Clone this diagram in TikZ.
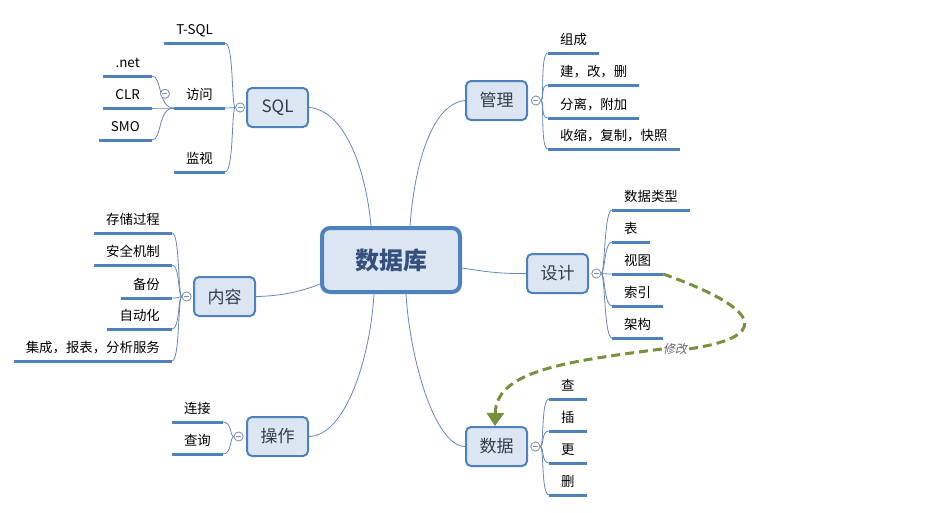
\documentclass[tikz,border=0pt]{standalone}
\usepackage{fontspec}
\setmainfont{Noto Sans CJK SC}
\newfontfamily\slfont{Noto Sans CJK SC}[FakeSlant=0.2]
\usepackage{tikz}
\usetikzlibrary{positioning,arrows.meta}

\definecolor{topicblue}{RGB}{79,129,189}
\definecolor{topicfill}{RGB}{220,230,242}
\definecolor{linkblue}{RGB}{100,135,190}
\definecolor{foldgray}{RGB}{125,145,175}
\definecolor{relgreen}{RGB}{118,146,60}
\definecolor{topictext}{RGB}{50,60,75}
\definecolor{roottext}{RGB}{52,80,125}

\tikzset{
	root/.style={draw=topicblue, line width=4pt, fill=topicfill, rounded corners=8pt, minimum width=138pt, minimum height=64pt, font=\fontsize{24}{28}\selectfont\bfseries, text=roottext},
	topic/.style={draw=topicblue, line width=2pt, fill=topicfill, rounded corners=5pt, minimum width=61pt, minimum height=39pt, font=\fontsize{17}{20}\selectfont, text=topictext},
	uline/.style={draw=topicblue, line width=3pt},
	leaf/.style={inner xsep=12pt, inner ysep=0pt, text height=20pt, text depth=8pt, font=\fontsize{13.4}{15}\selectfont, text=black,
		append after command={(\tikzlastnode.south west) edge[uline] (\tikzlastnode.south east)}},
	branch/.style={draw=linkblue, line width=0.8pt},
	fold/.style={circle, draw=foldgray, fill=white, line width=0.7pt, minimum size=9pt, inner sep=0pt,
		path picture={\draw[foldgray, line width=0.7pt] ([xshift=-2.5pt]path picture bounding box.center) -- ([xshift=2.5pt]path picture bounding box.center);}},
	rel/.style={draw=relgreen, line width=3pt, dash pattern=on 9pt off 5pt},
	rellabel/.style={font=\slfont\fontsize{12}{14}\selectfont, text=black!60, inner sep=1pt}
}

\begin{document}
\begin{tikzpicture}[x=1pt, y=-1pt]
			%%%%% START %%%%%
			\useasboundingbox (0,0) rectangle (945,512);
			
			\node[root] (db) at (391,260) {数据库};
			
			\node[topic] (sql) at (277.5,107.5) {SQL};
			\node[topic] (mgmt) at (496.5,100.5) {管理};
			\node[topic] (content) at (224.5,296.5) {内容};
			\node[topic] (design) at (557.5,273.5) {设计};
			\node[topic] (ops) at (277.5,436.5) {操作};
			\node[topic] (data) at (496.5,446.5) {数据};
			
			\draw[branch] (sql.east) .. controls (345,110) and (366,170) .. ([xshift=-20pt]db.north);
			\draw[branch] (mgmt.west) .. controls (430,104) and (414,170) .. ([xshift=19pt]db.north);
			\draw[branch] (content.east) .. controls (285,296) and (305,290) .. ([yshift=-24pt]db.west);
			\draw[branch] (design.west) .. controls (495,274) and (476,270) .. ([yshift=-8pt]db.east);
			\draw[branch] (ops.east) .. controls (345,436) and (370,360) .. ([xshift=-17pt]db.south);
			\draw[branch] (data.west) .. controls (435,446) and (410,360) .. ([xshift=15pt]db.south);
			
			% left hand leaves
			\foreach \n/\x/\y/\t in {tsql/225/43/T-SQL, acc/225/108/访问, mon/225/172/监视,
				net/152/76/.net, clr/152/108/CLR, smo/152/140/SMO,
				c1/172/233/存储过程, c2/172/265/安全机制, c3/172/298/备份, c4/172/329/自动化, c5/172/361/{集成，报表，分析服务},
				o1/223/422/连接, o2/223/454/查询}
				\node[leaf, anchor=south east] (\n) at (\x,\y) {\t};
			
			% right hand leaves
			\foreach \n/\x/\y/\t in {m1/548/53/组成, m2/548/85/{建，改，删}, m3/548/118/{分离，附加}, m4/548/149/{收缩，复制，快照},
				d1/612/210/数据类型, d2/612/242/表, d3/612/274/视图, d4/612/306/索引, d5/612/338/架构,
				a1/549/399/查, a2/549/431/插, a3/549/463/更, a4/549/495/删}
				\node[leaf, anchor=south west] (\n) at (\x,\y) {\t};
			
			\node[fold, left=1pt of sql] (sqlf) {};
			\node[fold, right=3pt of mgmt] (mgmtf) {};
			\node[fold, left=1.5pt of content] (contentf) {};
			\node[fold, right=2.5pt of design] (designf) {};
			\node[fold, left=2.5pt of ops] (opsf) {};
			\node[fold, right=2.5pt of data] (dataf) {};
			\node[fold, left=4pt of acc] (accf) {};
			
			\foreach \n in {tsql,acc,mon}
				\draw[branch] (sqlf.west) .. controls +(-4,0) and +(9,0) .. (\n.south east);
			\foreach \n in {net,clr,smo}
				\draw[branch] (acc.south west) .. controls +(-16,0) and +(10,0) .. (\n.south east);
			\foreach \n in {c1,c2,c3,c4,c5}
				\draw[branch] (contentf.west) .. controls +(-4,0) and +(8,0) .. (\n.south east);
			\foreach \n in {o1,o2}
				\draw[branch] (opsf.west) .. controls +(-4,0) and +(9,0) .. (\n.south east);
			\foreach \n in {m1,m2,m3,m4}
				\draw[branch] (mgmtf.east) .. controls +(4,0) and +(-8,0) .. (\n.south west);
			\foreach \n in {d1,d2,d3,d4,d5}
				\draw[branch] (designf.east) .. controls +(4,0) and +(-8,0) .. (\n.south west);
			\foreach \n in {a1,a2,a3,a4}
				\draw[branch] (dataf.east) .. controls +(4,0) and +(-8,0) .. (\n.south west);
			
			% redraw folds over the bracket ends
			\foreach \f in {sqlf,mgmtf,contentf,designf,opsf,dataf,accf}
				\node[fold] at (\f) {};
			
			\node[rellabel] (edit) at (675,349) {修改};
			\draw[rel] (d3.south east) .. controls (770,312) and (765,338) .. (edit.east);
			\draw[rel, -{Triangle[width=17pt,length=13pt]}] (edit.west) .. controls (560,362) and (496,372) .. ([xshift=-1.5pt]data.north);
			
			%%%%% END %%%%%
		\end{tikzpicture}
\end{document}
